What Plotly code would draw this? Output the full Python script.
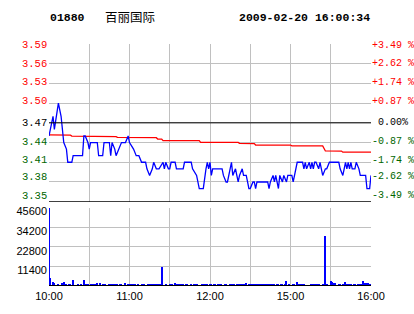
import plotly.graph_objects as go

# ---------------- data ----------------
stock_code = "01880"
stock_name = "百丽国际"
timestamp = "2009-02-20 16:00:34"
prev_close = 3.47

price_ticks = [3.59, 3.56, 3.53, 3.50, 3.47, 3.44, 3.41, 3.38, 3.35]
price_tick_labels = ["3.59", "3.56", "3.53", "3.50", "3.47", "3.44", "3.41", "3.38", "3.35"]
pct_tick_labels = ["+3.49 %", "+2.62 %", "+1.74 %", "+0.87 %", " 0.00%",
                   "-0.87 %", "-1.74 %", "-2.62 %", "-3.49 %"]

vol_ticks = [11400, 22800, 34200, 45600]
vol_tick_labels = ["11400", "22800", "34200", "45600"]

time_tick_minutes = [0, 30, 60, 90, 120, 150, 180, 210, 240]
time_tick_labels = ["10:00", "", "11:00", "", "12:00", "", "15:00", "", "16:00"]

price_minutes = [0, 3, 4, 7, 9, 11, 13, 14, 17, 18, 25, 26, 27, 29, 30, 31, 36, 37, 40, 41,
                 45, 46, 47, 49, 50, 52, 54, 57, 59, 60, 63, 65, 67, 69, 72, 73, 75, 77, 78, 80,
                 82, 85, 86, 87, 89, 90, 91, 94, 95, 100, 101, 106, 107, 110, 111, 112, 115, 116, 117, 118,
                 119, 120, 121, 122, 129, 130, 132, 133, 135, 136, 137, 139, 140, 141, 142, 144, 145, 147, 148, 149,
                 150, 152, 153, 154, 155, 162, 163, 164, 165, 167, 168, 169, 170, 171, 172, 174, 175, 177, 178, 180,
                 181, 182, 183, 185, 189, 190, 191, 192, 194, 195, 196, 197, 198, 199, 201, 202, 203, 204, 206, 207,
                 209, 216, 217, 219, 220, 221, 222, 223, 224, 225, 226, 228, 229, 231, 232, 236, 237, 239, 240]
price_values = [3.45, 3.48, 3.46, 3.50, 3.48, 3.44, 3.43, 3.41, 3.41, 3.42, 3.42, 3.45, 3.45, 3.44, 3.43, 3.44, 3.44, 3.42, 3.42, 3.44,
                3.44, 3.42, 3.44, 3.43, 3.42, 3.43, 3.44, 3.44, 3.45, 3.44, 3.43, 3.42, 3.42, 3.41, 3.41, 3.40, 3.39, 3.40, 3.41, 3.40,
                3.40, 3.41, 3.40, 3.41, 3.40, 3.40, 3.41, 3.41, 3.40, 3.40, 3.41, 3.41, 3.40, 3.39, 3.38, 3.37, 3.37, 3.39, 3.40, 3.41,
                3.40, 3.41, 3.39, 3.40, 3.40, 3.39, 3.38, 3.38, 3.40, 3.41, 3.39, 3.40, 3.39, 3.38, 3.39, 3.40, 3.39, 3.39, 3.38, 3.37,
                3.37, 3.38, 3.38, 3.37, 3.38, 3.38, 3.38, 3.37, 3.38, 3.39, 3.38, 3.39, 3.38, 3.37, 3.39, 3.38, 3.39, 3.38, 3.39, 3.39,
                3.39, 3.38, 3.39, 3.41, 3.41, 3.40, 3.41, 3.40, 3.41, 3.40, 3.41, 3.40, 3.41, 3.41, 3.40, 3.41, 3.40, 3.39, 3.40, 3.40,
                3.41, 3.41, 3.40, 3.39, 3.40, 3.41, 3.40, 3.41, 3.40, 3.41, 3.40, 3.40, 3.41, 3.40, 3.39, 3.39, 3.37, 3.37, 3.39]

avg_minutes = [0, 16, 17, 34, 35, 50, 51, 80, 81, 84, 85, 112, 113, 141, 142, 153, 154, 180, 181, 204, 206, 218, 219, 240]
avg_values = [3.4516, 3.4513, 3.4498, 3.4498, 3.4490, 3.4490, 3.4478, 3.4474, 3.4453, 3.4453, 3.4429, 3.4429,
              3.4403, 3.4403, 3.4388, 3.4385, 3.4362, 3.4362, 3.4350, 3.4350, 3.4272, 3.4270, 3.4253, 3.4253]

vol_minutes = [0, 1, 3, 4, 7, 10, 11, 13, 15, 16, 18, 22, 24, 26, 27, 28, 29, 31, 33, 34,
               36, 38, 40, 42, 45, 46, 47, 48, 49, 50, 51, 53, 54, 57, 59, 60, 61, 63, 64, 66,
               69, 70, 71, 74, 75, 76, 77, 78, 79, 80, 81, 83, 84, 87, 90, 91, 92, 94, 95, 96,
               98, 99, 100, 102, 103, 106, 108, 109, 110, 114, 115, 116, 117, 118, 120, 121, 123, 124, 126, 127,
               128, 131, 132, 135, 136, 137, 138, 140, 141, 142, 143, 144, 145, 147, 149, 150, 151, 152, 153, 154,
               156, 157, 158, 159, 160, 162, 163, 165, 166, 168, 170, 171, 173, 174, 176, 177, 179, 182, 183, 185,
               186, 187, 188, 189, 190, 195, 196, 197, 198, 200, 201, 204, 206, 207, 210, 211, 212, 213, 216, 217,
               219, 221, 222, 223, 224, 225, 227, 228, 230, 231, 232, 233, 234, 235, 236, 237, 238, 239]
vol_values = [45600, 4800, 2300, 1900, 1150, 1900, 2300, 1150, 1150, 1150, 3600, 1150, 1150, 3600, 1150, 1150, 1150, 1150, 1150, 1150,
              1700, 1900, 1150, 1150, 1150, 1150, 1150, 1150, 1150, 1150, 1150, 1150, 1150, 1900, 1150, 1150, 1150, 1150, 1150, 1150,
              1150, 1150, 1150, 1150, 1150, 1150, 1150, 1150, 1150, 1150, 1150, 1150, 11200, 1150, 1150, 1150, 1150, 1700, 1150, 1150,
              1150, 1150, 1150, 1150, 1150, 1150, 1150, 1150, 1150, 1150, 1150, 1150, 1150, 1150, 1150, 1150, 1150, 1150, 1150, 1150,
              1150, 1150, 1150, 1150, 1150, 1150, 1150, 1150, 1150, 1150, 1150, 1150, 1150, 1900, 1150, 1150, 1150, 1150, 1150, 1150,
              1150, 1150, 1150, 1150, 1150, 1150, 1150, 1150, 1150, 1150, 1150, 1150, 1150, 1150, 1150, 3000, 1150, 1150, 1150, 2300,
              1150, 1150, 1150, 1150, 1150, 1150, 1150, 1150, 1150, 1150, 1150, 1150, 29400, 1150, 3000, 2300, 1700, 1700, 1150, 1150,
              1150, 2300, 1150, 1150, 1150, 1150, 1150, 1150, 1150, 1150, 1150, 1150, 3000, 1700, 1700, 1700, 1700, 1150]

# ---------------- styles ----------------
UP = "#ff0000"
DOWN = "#006600"
FLAT = "#000000"
GRID = "#c0c0c0"
MONO = "Liberation Mono, DejaVu Sans Mono, monospace"
SANS = "Liberation Sans, Arial, sans-serif"
label_yshift = [-1, 0, 1, 2, 0, 1, 2, 5, 6]

fig = go.Figure()

fig.add_trace(go.Scatter(x=avg_minutes, y=avg_values, mode="lines",
                         line=dict(color="#ff0000", width=1.3), xaxis="x", yaxis="y",
                         hoverinfo="skip"))
fig.add_trace(go.Scatter(x=price_minutes, y=price_values, mode="lines",
                         line=dict(color="#0000ff", width=1.3), xaxis="x", yaxis="y"))
fig.add_trace(go.Bar(x=vol_minutes, y=vol_values, width=0.8,
                     marker=dict(color="#0000ff", line=dict(width=0)),
                     xaxis="x2", yaxis="y2"))

axis_common = dict(showline=False, zeroline=False, showgrid=True, gridcolor=GRID, gridwidth=1)

fig.update_layout(
    width=414, height=314,
    margin=dict(l=49, r=43, t=44, b=26),
    paper_bgcolor="white", plot_bgcolor="white",
    showlegend=False, bargap=0,
    xaxis=dict(domain=[0, 1], range=[0, 240], anchor="y", tickmode="array",
               tickvals=time_tick_minutes, showticklabels=False, ticks="", **axis_common),
    yaxis=dict(domain=[0.3484, 1], range=[3.35, 3.59], anchor="x", tickmode="array",
               tickvals=price_ticks, showticklabels=False, ticks="", **axis_common),
    xaxis2=dict(domain=[0, 1], range=[0, 240], anchor="y2", tickmode="array",
                tickvals=time_tick_minutes, ticktext=time_tick_labels, ticks="",
                ticklabelstandoff=2,
                tickfont=dict(family=SANS, size=11, color="black"), **axis_common),
    yaxis2=dict(domain=[0, 0.3238], range=[0, 45600], anchor="x2", tickmode="array",
                tickvals=vol_ticks, ticktext=vol_tick_labels, ticks="",
                tickfont=dict(family=SANS, size=11, color="black"),
                ticklabelshift=4, ticklabelstandoff=1, **axis_common),
)

# reference lines
fig.add_shape(type="line", xref="x", yref="y", x0=0, x1=240, y0=prev_close, y1=prev_close,
              line=dict(color="black", width=1))
fig.add_shape(type="line", xref="x", yref="y", x0=0, x1=240, y0=3.35, y1=3.35,
              line=dict(color="black", width=1.5))
fig.add_shape(type="line", xref="x2", yref="y2", x0=0, x1=240, y0=0, y1=0,
              line=dict(color="black", width=2))

# price / percent labels
for p, lab, pl, ys in zip(price_ticks, price_tick_labels, pct_tick_labels, label_yshift):
    col = UP if p > prev_close + 1e-9 else (DOWN if p < prev_close - 1e-9 else FLAT)
    fig.add_annotation(x=0, xref="paper", y=p, yref="y", text=lab, showarrow=False,
                       xanchor="right", yanchor="middle", xshift=-1, yshift=ys,
                       font=dict(family=MONO, size=10.5, color=col), borderpad=0)
    fig.add_annotation(x=1, xref="paper", y=p, yref="y", text=pl.replace(" ", "&nbsp;"),
                       showarrow=False, xanchor="left", yanchor="middle", xshift=0, yshift=ys,
                       font=dict(family=MONO, size=10, color=col), borderpad=0)

# header
fig.add_annotation(x=0, xref="paper", y=1, yref="paper", text="<b>%s</b>" % stock_code,
                   showarrow=False, xanchor="left", yanchor="middle", xshift=0, yshift=27,
                   font=dict(family=MONO, size=11.5, color="black"), borderpad=0)
fig.add_annotation(x=0, xref="paper", y=1, yref="paper", text=stock_name,
                   showarrow=False, xanchor="left", yanchor="middle", xshift=55, yshift=28,
                   font=dict(family="Noto Sans CJK SC", size=12.5, color="black"), borderpad=0)
fig.add_annotation(x=1, xref="paper", y=1, yref="paper", text="<b>%s</b>" % timestamp,
                   showarrow=False, xanchor="right", yanchor="middle", xshift=0, yshift=27,
                   font=dict(family=MONO, size=11.5, color="black"), borderpad=0)

fig.write_html("out.html")
